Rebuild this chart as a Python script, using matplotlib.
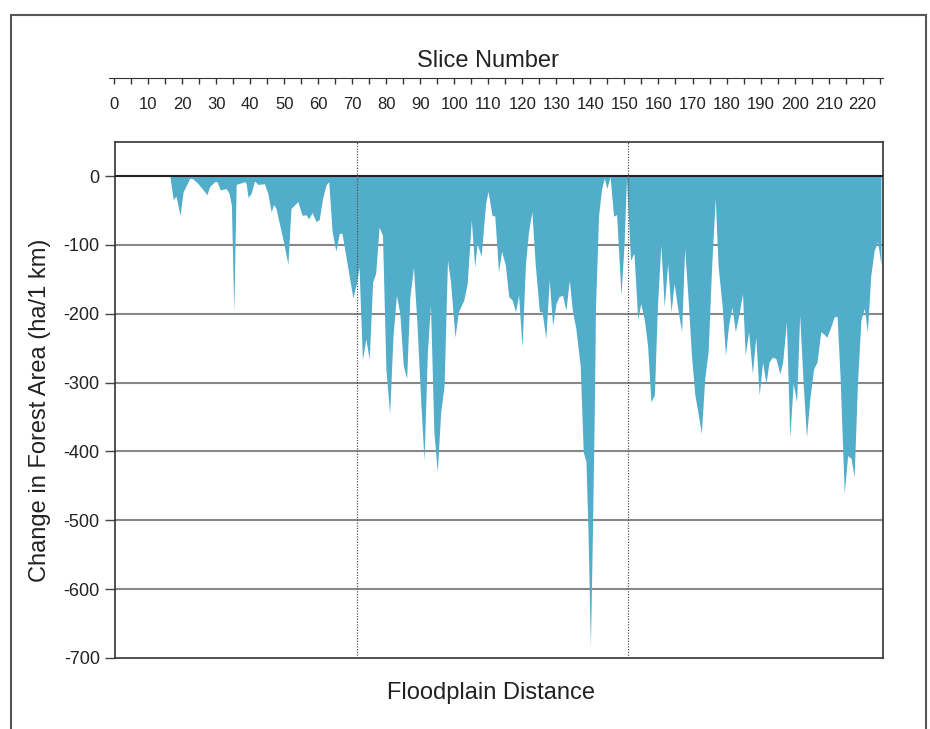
import matplotlib.pyplot as plt
from matplotlib.patches import Rectangle

# slice position and change in forest area (ha / 1 km)
slices = [16.4, 17.4, 18.2, 19.4, 20.3, 22.3, 23.2, 24.7, 26.2, 27.3,
          28.1, 29.6, 30.3, 31.2, 33.0, 33.8, 34.5, 35.2, 35.9, 38.4,
          38.8, 39.4, 40.3, 41.3, 42.3, 44.2, 45.2, 46.2, 46.9, 47.6,
          49.6, 51.1, 52.0, 54.0, 55.3, 56.4, 57.2, 58.2, 59.4, 60.3,
          61.3, 62.3, 63.1, 64.1, 65.2, 66.2, 67.0, 70.2, 71.3, 72.0,
          73.0, 74.0, 75.0, 76.0, 76.9, 77.9, 78.9, 79.9, 81.0, 82.0,
          83.0, 84.0, 85.0, 86.0, 86.9, 88.0, 89.0, 90.1, 91.1, 92.1,
          93.0, 94.0, 95.0, 96.0, 97.0, 98.0, 98.9, 100.2, 101.2, 102.8,
          103.8, 105.0, 106.0, 106.7, 107.9, 109.2, 109.9, 111.1, 111.9, 113.0,
          113.9, 115.0, 116.0, 117.0, 118.0, 118.9, 119.9, 120.9, 121.8, 122.8,
          123.8, 125.0, 125.8, 126.9, 127.9, 128.9, 129.9, 130.8, 131.8, 132.8,
          133.8, 134.7, 135.7, 137.0, 137.9, 138.7, 139.3, 140.0, 140.6, 141.2,
          141.5, 142.4, 143.3, 144.1, 144.8, 145.8, 146.8, 147.7, 149.0, 149.9,
          150.6, 151.8, 152.8, 153.9, 154.8, 155.9, 156.8, 157.8, 158.8, 159.7,
          160.7, 161.7, 162.7, 163.7, 164.6, 165.6, 166.8, 167.7, 168.7, 169.7,
          170.7, 171.6, 172.6, 173.6, 174.6, 175.6, 176.7, 177.5, 178.7, 179.7,
          180.6, 181.6, 182.6, 183.6, 184.7, 185.5, 186.5, 187.6, 188.6, 189.6,
          190.6, 191.6, 192.5, 193.5, 194.5, 195.7, 196.5, 197.6, 198.6, 199.6,
          200.6, 201.5, 202.5, 203.5, 204.5, 205.6, 206.6, 207.7, 208.5, 209.5,
          210.5, 211.7, 212.5, 213.4, 214.6, 215.6, 216.6, 217.5, 218.5, 219.5,
          220.5, 221.4, 222.4, 223.4, 224.4, 225.4]
change = [0, -34, -29, -57, -23, -3, -4, -11, -20, -27,
          -15, -8, -8, -20, -18, -25, -42, -197, -12, -8,
          -10, -31, -25, -7, -12, -11, -25, -52, -41, -47,
          -91, -128, -47, -37, -57, -56, -62, -53, -66, -63,
          -32, -13, -8, -81, -109, -83, -83, -177, -154, -132,
          -267, -236, -266, -154, -141, -74, -86, -280, -345, -231,
          -173, -200, -275, -294, -178, -132, -212, -323, -413, -255,
          -187, -372, -430, -343, -304, -122, -154, -234, -197, -180,
          -156, -64, -132, -98, -116, -40, -22, -57, -58, -139,
          -109, -129, -175, -180, -197, -173, -248, -129, -81, -52,
          -129, -197, -197, -236, -151, -217, -185, -175, -173, -195,
          -151, -195, -221, -275, -401, -415, -517, -684, -517, -323,
          -190, -57, -18, -3, -18, -1, -58, -56, -173, -98,
          -3, -122, -112, -208, -185, -210, -246, -328, -318, -188,
          -100, -190, -127, -197, -156, -190, -226, -105, -178, -260,
          -318, -343, -374, -294, -255, -134, -32, -129, -188, -260,
          -217, -190, -226, -202, -171, -260, -226, -287, -234, -318,
          -270, -301, -270, -263, -265, -287, -270, -212, -379, -301,
          -328, -202, -299, -379, -323, -280, -270, -226, -229, -234,
          -221, -204, -204, -294, -461, -406, -410, -437, -299, -209,
          -192, -226, -144, -108, -95, -129]

# reach boundaries (dotted lines), in slice numbers
boundaries = [71.3, 151.0]

yticks = [0, -100, -200, -300, -400, -500, -600, -700]
slice_ticks = list(range(0, 226, 5))
slice_labels = [str(t) if t % 10 == 0 else "" for t in slice_ticks]

plt.rcParams['font.family'] = ['Liberation Sans', 'DejaVu Sans']

fig = plt.figure(figsize=(9.3, 7.29), dpi=100)

# outer frame
fig.patches.append(Rectangle((11 / 930, -0.05), 915 / 930, 1.05 - 15 / 729,
                             transform=fig.transFigure, fill=False,
                             edgecolor="#555555", lw=1.5))

ax = fig.add_axes([0.1237, 0.0974, 0.8258, 0.7082])
ax.set_xlim(0.3, 226)
ax.set_ylim(-700, 50)

for y in yticks[1:-1]:
    ax.axhline(y, color="#888888", lw=1.5, zorder=1)
ax.fill_between(slices, change, 0, color="#51adc9", lw=0, zorder=2)
ax.axhline(0, color="#222222", lw=1.5, zorder=3)
for b in boundaries:
    ax.axvline(b, color="#555555", lw=0.9, ls=(0, (1, 1.2)), zorder=4)

ax.set_yticks(yticks)
ax.set_yticklabels([str(t) for t in yticks], fontsize=13, color="#222222")
ax.tick_params(axis="y", length=7, width=1, color="#444444", pad=4)
ax.set_xticks([])
for s in ax.spines.values():
    s.set_color("#333333")
    s.set_linewidth(1.2)

# slice number scale on top
top = fig.add_axes([0.1172, 0.893, 0.8323, 0.0001])
top.set_xlim(-1.5, 226)
top.set_yticks([])
top.set_xticks(slice_ticks)
top.set_xticklabels(slice_labels, fontsize=12, color="#222222")
top.tick_params(axis="x", length=4, width=1, color="#333333", pad=10)
for k in ["top", "left", "right"]:
    top.spines[k].set_visible(False)
top.spines["bottom"].set_color("#333333")
top.patch.set_visible(False)

fig.text(0.525, 0.917, "Slice Number", ha="center", va="center", fontsize=17, color="#222222")
fig.text(0.528, 0.049, "Floodplain Distance", ha="center", va="center", fontsize=17, color="#222222")
fig.text(0.043, 0.437, "Change in Forest Area (ha/1 km)", ha="center", va="center",
         rotation=90, fontsize=17, color="#222222")

fig.savefig("out.png", dpi=100)
